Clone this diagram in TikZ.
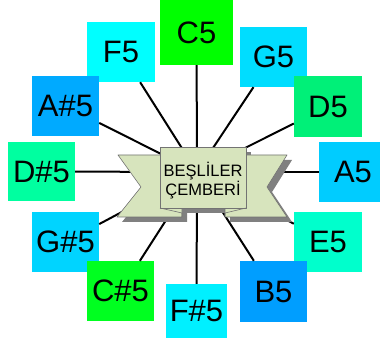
\documentclass[tikz,border=0pt]{standalone}
\usepackage{fontspec}
\setmainfont{Liberation Sans}
\begin{document}
\begin{tikzpicture}[x=1pt,y=-1pt,
  note/.style={inner sep=0pt, minimum width=67pt, minimum height=60pt, font=\fontsize{31}{36}\selectfont, text=black},
  conn/.style={draw=black, line width=2pt},
  ribbon/.style={fill=ribbongreen, draw=black!55, line width=0.6pt, line join=round},
  shade/.style={fill=black!50}
]
\definecolor{ribbongreen}{RGB}{215,228,189}
\definecolor{cC}{RGB}{0,255,0}
\definecolor{cF}{RGB}{0,255,255}
\definecolor{cG}{RGB}{0,221,255}
\definecolor{cD}{RGB}{0,240,120}
\definecolor{cA}{RGB}{0,204,255}
\definecolor{cE}{RGB}{0,255,204}
\definecolor{cB}{RGB}{0,158,255}
\definecolor{cFs}{RGB}{0,240,255}
\definecolor{cCs}{RGB}{0,255,32}
\definecolor{cGs}{RGB}{0,212,255}
\definecolor{cDs}{RGB}{0,255,160}
\definecolor{cAs}{RGB}{0,170,255}
\useasboundingbox (0,0) rectangle (380,347);
\fill[white] (0,0) rectangle (380,347);

% boxes
\node[note, fill=cC, minimum width=73pt, minimum height=65pt] (c5) at (196.5,32.5) {C5};
\node[note, fill=cF, minimum width=68pt] (f5) at (121,52) {F5};
\node[note, fill=cG] (g5) at (273.5,57) {G5};
\node[note, fill=cAs] (as5) at (65.5,106) {A\#5};
\node[note, fill=cD, minimum width=68pt, minimum height=61pt] (d5) at (328,106.5) {D5};
\node[note, fill=cDs, minimum height=59pt] (ds5) at (41.5,171.5) {D\#5};
\node[note, fill=cA, minimum width=68pt] (a5) at (353,172) {A5};
\node[note, fill=cE, minimum width=68pt] (e5) at (328,242) {E5};
\node[note, fill=cGs] (gs5) at (65.5,242) {G\#5};
\node[note, fill=cB, minimum height=61pt] (b5) at (273.5,291.5) {B5};
\node[note, fill=cCs] (cs5) at (120.5,291) {C\#5};
\node[note, fill=cFs, minimum width=61pt, minimum height=54pt] (fs5) at (196.5,311) {F\#5};

% connectors
\coordinate (ctr) at (197,172);
\foreach \n in {c5,f5,g5,as5,d5,ds5,a5,e5,gs5,b5,cs5,fs5}
  \draw[conn] (ctr) -- (\n);

% banner shadow
\begin{scope}[shift={(5,5)}]
  \fill[shade] (118,155) -- (182,155) -- (182,217) -- (117,217) -- (141,187) -- cycle;
  \fill[shade] (225,155) -- (287,155) -- (267,187) -- (287,217) -- (225,217) -- cycle;
  \fill[shade] (160,147) rectangle (246,208);
\end{scope}
% tails
\path[ribbon] (118,155) -- (182,155) -- (182,217) -- (117,217) -- (141,187) -- cycle;
\path[ribbon] (225,155) -- (287,155) -- (267,187) -- (287,217) -- (225,217) -- cycle;
% panel
\path[ribbon] (160,147) rectangle (246,208);
% folds
\draw[draw=black!55, line width=0.6pt] (160,208) -- (182,213) -- (182,217);
\draw[draw=black!55, line width=0.6pt] (246,208) -- (225,213) -- (225,217);
\node[align=center, inner sep=0pt, font=\fontsize{16.5}{19}\selectfont] (title) at (203,181) {BEŞLİLER\\ÇEMBERİ};
\end{tikzpicture}
\end{document}
